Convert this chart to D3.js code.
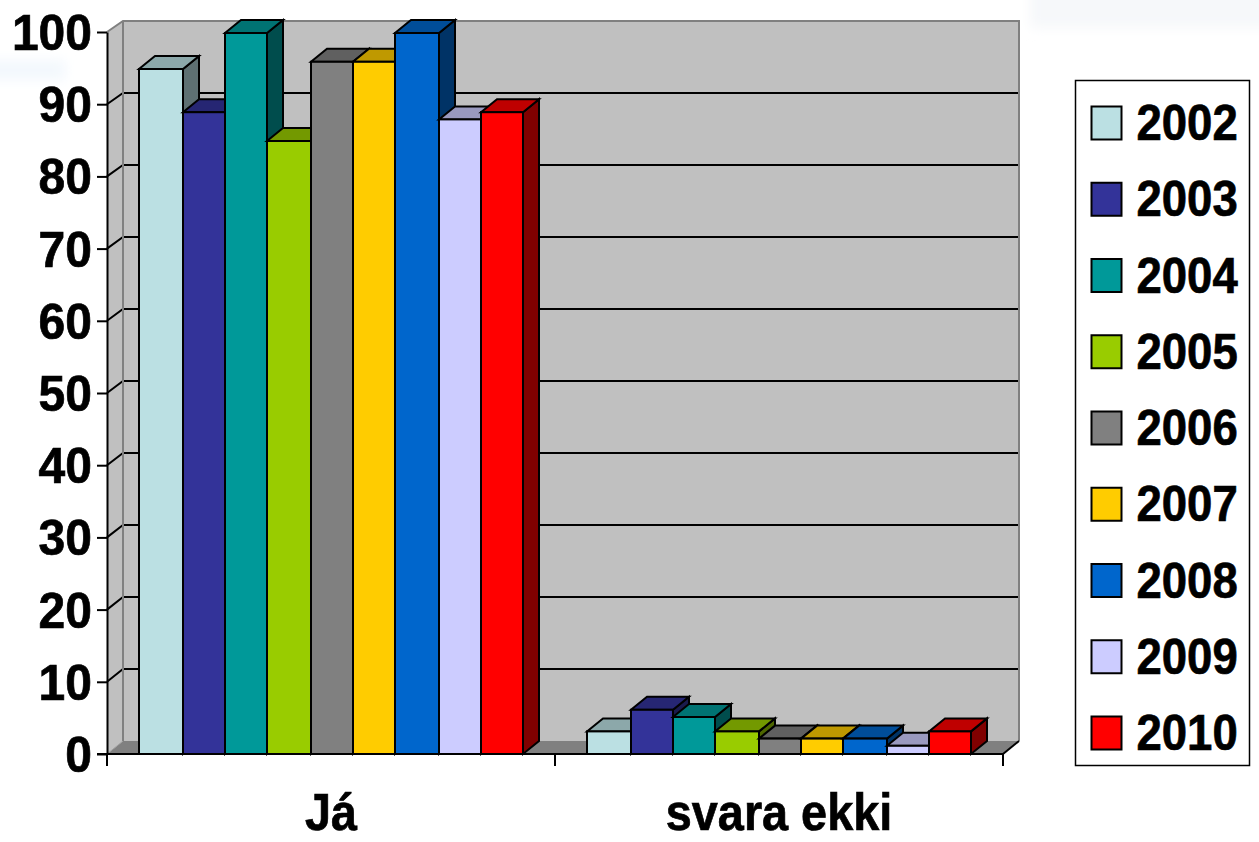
<!DOCTYPE html>
<html><head><meta charset="utf-8">
<script src="https://cdn.jsdelivr.net/npm/d3@7"></script>
<style>html,body{margin:0;background:#fff}svg{display:block}text{font-family:"Liberation Sans",Arial,sans-serif;font-weight:700;fill:#000;stroke:#000;stroke-width:0.7px}</style>
</head><body><svg id="c" width="1259" height="842"></svg>
<script>
const categories = ["Já", "svara ekki"];
const years = ["2002","2003","2004","2005","2006","2007","2008","2009","2010"];
const valuesJa = [95, 89, 100, 85, 96, 96, 100, 88, 89];
const valuesSvaraEkki = [3, 6, 5, 3, 2, 2, 2, 1, 3];
const colors = ["#BBE0E3","#333399","#009999","#99CC00","#808080","#FFCC00","#0066CC","#CCCCFF","#FF0000"];
const yTicks = [0,10,20,30,40,50,60,70,80,90,100];

const svg = d3.select("#c");
const dx = 16, barDy = 13;
const x0 = d3.scaleBand().domain(categories).range([107, 1003]);
const x1 = d3.scaleBand().domain(years).range([32, 416]);
const y = d3.scaleLinear().domain([0, 100]).range([754, 32]);
const yBack = d3.scaleLinear().domain([0, 100]).range([741, 21]);
const yBar = d3.scaleLinear().domain([0, 100]).range([753, 33]);
const snap = v => 2 * Math.ceil((v - 1 - 1e-6) / 2) + 1;
const pts = a => a.map(p => p.join(",")).join(" ");
const left = x0.range()[0], right = x0.range()[1];

// faint slide background washes
const defs = svg.append("defs");
defs.append("filter").attr("id","soft").attr("x","-30%").attr("y","-60%").attr("width","160%").attr("height","220%")
  .append("feGaussianBlur").attr("stdDeviation",6);
svg.append("rect").attr("x",1030).attr("y",-20).attr("width",260).attr("height",48).attr("fill","#F6F8FA").attr("filter","url(#soft)");
svg.append("rect").attr("x",-20).attr("y",60).attr("width",85).attr("height",20).attr("fill","#F3F8FD").attr("filter","url(#soft)");

// walls
svg.append("polygon").attr("points", pts([[left+dx,yBack(100)],[right+dx,yBack(100)],[right+dx,yBack(0)],[left+dx,yBack(0)]])).attr("fill","#C0C0C0");
svg.append("polygon").attr("points", pts([[left,y(0)],[left+dx,yBack(0)],[left+dx,yBack(100)],[left,y(100)]])).attr("fill","#C0C0C0");
svg.append("polygon").attr("points", pts([[left,y(0)],[right,y(0)],[right+dx,yBack(0)],[left+dx,yBack(0)]])).attr("fill","#808080");
// gridlines
yTicks.filter(t => t > 0 && t < 100).forEach(t => {
  svg.append("polyline").attr("points", pts([[left,y(t)],[left+dx,yBack(t)],[right+dx,yBack(t)]]))
    .attr("fill","none").attr("stroke","#000").attr("stroke-width",2);
});
// wall borders
svg.append("polyline").attr("points", pts([[left,y(100)],[left+dx,yBack(100)],[right+dx,yBack(100)],[right+dx,yBack(0)]]))
  .attr("fill","none").attr("stroke","#808080").attr("stroke-width",2);
svg.append("line").attr("x1",left+dx).attr("x2",left+dx).attr("y1",yBack(100)).attr("y2",yBack(0)).attr("stroke","#808080").attr("stroke-width",2);
svg.append("line").attr("x1",left).attr("y1",y(0)).attr("x2",left+dx).attr("y2",yBack(0)).attr("stroke","#A0A0A0").attr("stroke-width",1);
svg.append("line").attr("x1",right).attr("y1",y(0)).attr("x2",right+dx).attr("y2",yBack(0)).attr("stroke","#000").attr("stroke-width",2);

// axes
const yAxis = d3.axisLeft(y).tickValues(yTicks).tickSize(10).tickPadding(4).tickSizeOuter(0);
const gy = svg.append("g").attr("transform",`translate(${left},0)`).call(yAxis);
gy.selectAll("path,line").attr("stroke","#000").attr("stroke-width",2);
gy.selectAll("text").remove();
yTicks.forEach(t => {
  svg.append("text").attr("text-anchor","end").attr("font-size",50)
    .attr("transform",`translate(92,${y(t)+18}) scale(0.96,1)`).text(t);
});
svg.append("line").attr("x1",97).attr("x2",right).attr("y1",y(0)).attr("y2",y(0)).attr("stroke","#000").attr("stroke-width",2);
[left,(left+right)/2,right].forEach(v => svg.append("line").attr("x1",v).attr("x2",v).attr("y1",y(0)).attr("y2",766).attr("stroke","#000").attr("stroke-width",2));

// bars
const shade = (c,k) => (r => d3.rgb(r.r*k,r.g*k,r.b*k).formatHex())(d3.rgb(c));
[valuesJa, valuesSvaraEkki].forEach((vals, g) => {
  const base = x0(categories[g]);
  const rows = years.map((yr,i) => ({yr, v: vals[i], c: colors[i]}));
  const gs = svg.append("g").selectAll("g").data(rows).join("g")
    .attr("stroke","#000").attr("stroke-width",2).attr("stroke-linejoin","miter");
  gs.each(function(d){
    const a = snap(base + x1(d.yr)), b = snap(base + x1(d.yr) + x1.bandwidth());
    const t = yBar(d.v), z = y(0), s = d3.select(this);
    s.append("polygon").attr("points", pts([[b,t],[b+dx,t-barDy],[b+dx,z-barDy],[b,z]])).attr("fill",shade(d.c,0.5));
    s.append("polygon").attr("points", pts([[a,t],[b,t],[b+dx,t-barDy],[a+dx,t-barDy]])).attr("fill",shade(d.c,0.75));
    s.append("rect").attr("x",a).attr("y",t).attr("width",b-a).attr("height",z-t).attr("fill",d.c);
  });
});

// category labels
categories.forEach(c => {
  svg.append("text").attr("text-anchor","middle").attr("font-size",52)
    .attr("transform",`translate(${x0(c)+x0.bandwidth()/2},830) scale(0.9,1)`).text(c);
});

// legend
svg.append("rect").attr("x",1075.5).attr("y",80.5).attr("width",174).attr("height",685).attr("fill","#fff").attr("stroke","#000").attr("stroke-width",1.5);
const ly = d3.scalePoint().domain(years).range([123, 733]);
years.forEach((yr,i) => {
  svg.append("rect").attr("x",1091.5).attr("y",ly(yr)-16.5).attr("width",30).attr("height",33).attr("fill",colors[i]).attr("stroke","#000").attr("stroke-width",2);
  svg.append("text").attr("font-size",50).attr("transform",`translate(1136.5,${ly(yr)+17}) scale(0.91,1)`).text(yr);
});
</script></body></html>
